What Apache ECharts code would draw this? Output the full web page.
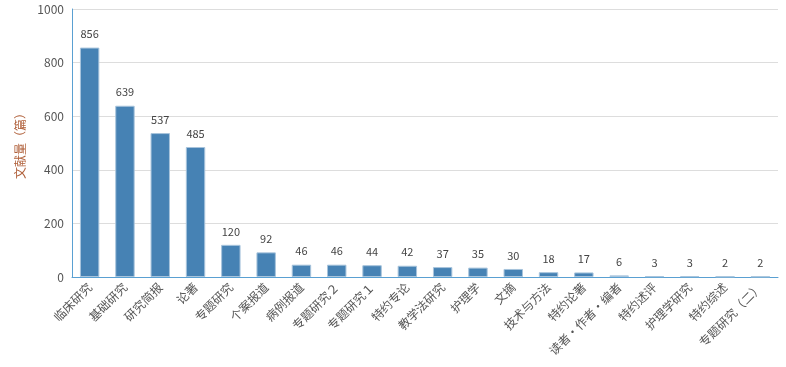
<!DOCTYPE html>
<html><head><meta charset="utf-8">
<script src="https://cdn.jsdelivr.net/npm/echarts@6/dist/echarts.min.js"></script>
<style>html,body{margin:0;padding:0;background:#fff}#c{width:786px;height:367px}</style>
</head><body><div id="c"></div>
<script>
var categories = ['临床研究','基础研究','研究简报','论著','专题研究','个案报道','病例报道','专题研究２','专题研究１','特约专论','教学法研究','护理学','文摘','技术与方法','特约论著','读者·作者·编者','特约述评','护理学研究','特约综述','专题研究（二）'];
var values = [856,639,537,485,120,92,46,46,44,42,37,35,30,18,17,6,3,3,2,2];
var yTicks = {min:0, max:1000, interval:200};
var font = '"Noto Sans CJK SC","Noto Sans",sans-serif';
var chart = echarts.init(document.getElementById('c'));
chart.setOption({
  animation:false,
  grid:{left:72, right:8, top:9, bottom:90},
  xAxis:{type:'category', data:categories, boundaryGap:true,
    axisLine:{lineStyle:{color:'#5aa0d2'}},
    axisTick:{alignWithLabel:false, lineStyle:{color:'#c5d5e5'}},
    axisLabel:{rotate:45, interval:0, color:'#555', fontSize:12, fontFamily:font, margin:8}},
  yAxis:{type:'value', min:yTicks.min, max:yTicks.max, interval:yTicks.interval,
    name:'文献量（篇）', nameLocation:'middle', nameGap:45, nameRotate:90,
    nameTextStyle:{color:'#b0603a', fontSize:12, fontFamily:font},
    axisLine:{show:true, lineStyle:{color:'#5aa0d2'}},
    axisTick:{show:false},
    splitLine:{lineStyle:{color:'#ddd'}},
    axisLabel:{color:'#555', fontSize:12, fontFamily:font, formatter:function(v){return String(v);}}},
  series:[{type:'bar', data:values, barWidth:'55%',
    itemStyle:{color:'#4682b4', borderColor:'#a8c4dc', borderWidth:1},
    label:{show:true, position:'top', distance:8, color:'#444', fontSize:11, fontFamily:font}}]
});
</script></body></html>
